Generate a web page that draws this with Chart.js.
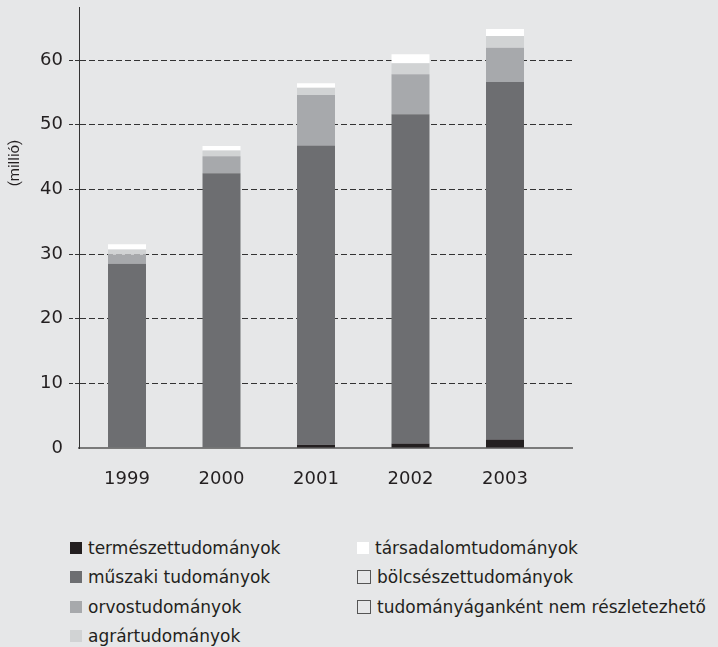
<!DOCTYPE html>
<html>
<head>
<meta charset="utf-8">
<script src="https://cdn.jsdelivr.net/npm/chart.js@4"></script>
<style>
  body { margin: 0; background: #e6e7e8; }
  #wrap { position: relative; width: 718px; height: 647px; }
  #box { position: absolute; left: 0; top: 0; width: 718px; height: 500px; }
  #legend {
    position: absolute; left: 70px; top: 533px;
    display: grid; grid-auto-flow: column;
    grid-template-rows: repeat(4, 29.5px);
    grid-template-columns: 287px 361px;
    font: 17px "DejaVu Sans", sans-serif; color: #231f20;
  }
  #legend div { display: flex; align-items: center; white-space: nowrap; }
  #legend span.sw { display: inline-block; flex-shrink: 0; width: 12px; height: 12px; margin-right: 6px; box-sizing: border-box; }
</style>
</head>
<body>
<div id="wrap">
  <div id="box"><canvas id="researchChart"></canvas></div>
  <div id="legend"></div>
</div>
<script>
const years = [1999, 2000, 2001, 2002, 2003];
const seriesNames = ["természettudományok", "műszaki tudományok", "orvostudományok", "agrártudományok",
  "társadalomtudományok", "bölcsészettudományok", "tudományáganként nem részletezhető"];
const termeszet = [0, 0, 0.5, 0.7, 1.3];
const muszaki = [28.5, 42.5, 46.3, 50.9, 55.3];
const orvos = [1.4, 2.6, 7.8, 6.2, 5.3];
const agrar = [0.8, 0.9, 1.1, 1.7, 1.8];
const tarsadalom = [0.8, 0.7, 0.7, 1.4, 1.1];
const bolcsesz = [0, 0, 0, 0, 0];
const nemReszletezheto = [0, 0, 0, 0, 0];
const yTicks = [0, 10, 20, 30, 40, 50, 60];

const fills = ["#231f20", "#6d6e71", "#a7a9ac", "#d1d3d4", "#ffffff", "transparent", "transparent"];
const allValues = [termeszet, muszaki, orvos, agrar, tarsadalom, bolcsesz, nemReszletezheto];

const yTitle = {
  id: "yTitle",
  afterDraw(chart) {
    const ctx = chart.ctx;
    ctx.save();
    ctx.translate(15, 163);
    ctx.rotate(-Math.PI / 2);
    ctx.font = "15px Roboto, sans-serif";
    ctx.fillStyle = "#231f20";
    ctx.textAlign = "center";
    ctx.textBaseline = "middle";
    ctx.fillText("(millió)", 0, 0);
    ctx.restore();
  }
};

const chart = new Chart(document.getElementById("researchChart"), {
  type: "bar",
  data: {
    datasets: allValues.map((vals, i) => ({
      label: seriesNames[i],
      data: years.map((yr, j) => ({ x: yr, y: vals[j] })),
      backgroundColor: fills[i],
      borderWidth: 0,
      categoryPercentage: 1,
      barPercentage: 0.402
    }))
  },
  options: {
    responsive: true,
    maintainAspectRatio: false,
    animation: false,
    layout: { padding: { top: 7, right: 146, left: 0, bottom: 0 } },
    plugins: { legend: { display: false }, tooltip: { enabled: false } },
    scales: {
      x: {
        type: "linear",
        stacked: true,
        offset: false,
        min: 1998.492,
        max: 2003.709,
        afterFit(s) { s.height = 52; s.paddingLeft = 0; s.paddingRight = 0; },
        afterBuildTicks(s) { s.ticks = years.map(v => ({ value: v })); },
        grid: { display: false, offset: false },
        border: { color: "#7a7a7a", width: 2 },
        ticks: {
          padding: 13,
          color: "#231f20",
          font: { family: "DejaVu Sans", size: 18 },
          callback: v => String(v)
        }
      },
      y: {
        stacked: true,
        min: 0,
        max: 68.2,
        afterFit(s) { s.width = 79; s.paddingTop = 0; s.paddingBottom = 0; },
        afterBuildTicks(s) { s.ticks = yTicks.map(v => ({ value: v })); },
        border: { color: "#333333", width: 1, dash: [6, 3] },
        grid: {
          color: c => c.tick && c.tick.value === 0 ? "transparent" : "#333333",
          tickColor: c => c.tick && c.tick.value === 0 ? "transparent" : "#333333",
          tickLength: 10,
          tickBorderDash: [4, 2]
        },
        ticks: {
          padding: 6,
          color: "#231f20",
          font: { family: "DejaVu Sans", size: 18 }
        }
      }
    }
  },
  plugins: [yTitle]
});

const legend = document.getElementById("legend");
chart.data.datasets.forEach(ds => {
  const item = document.createElement("div");
  const sw = document.createElement("span");
  sw.className = "sw";
  if (ds.backgroundColor === "transparent") {
    sw.style.border = "1px solid #555";
    sw.style.width = "14px";
    sw.style.height = "14px";
  } else {
    sw.style.background = ds.backgroundColor;
  }
  item.appendChild(sw);
  item.appendChild(document.createTextNode(ds.label));
  legend.appendChild(item);
});
</script>
</body>
</html>
